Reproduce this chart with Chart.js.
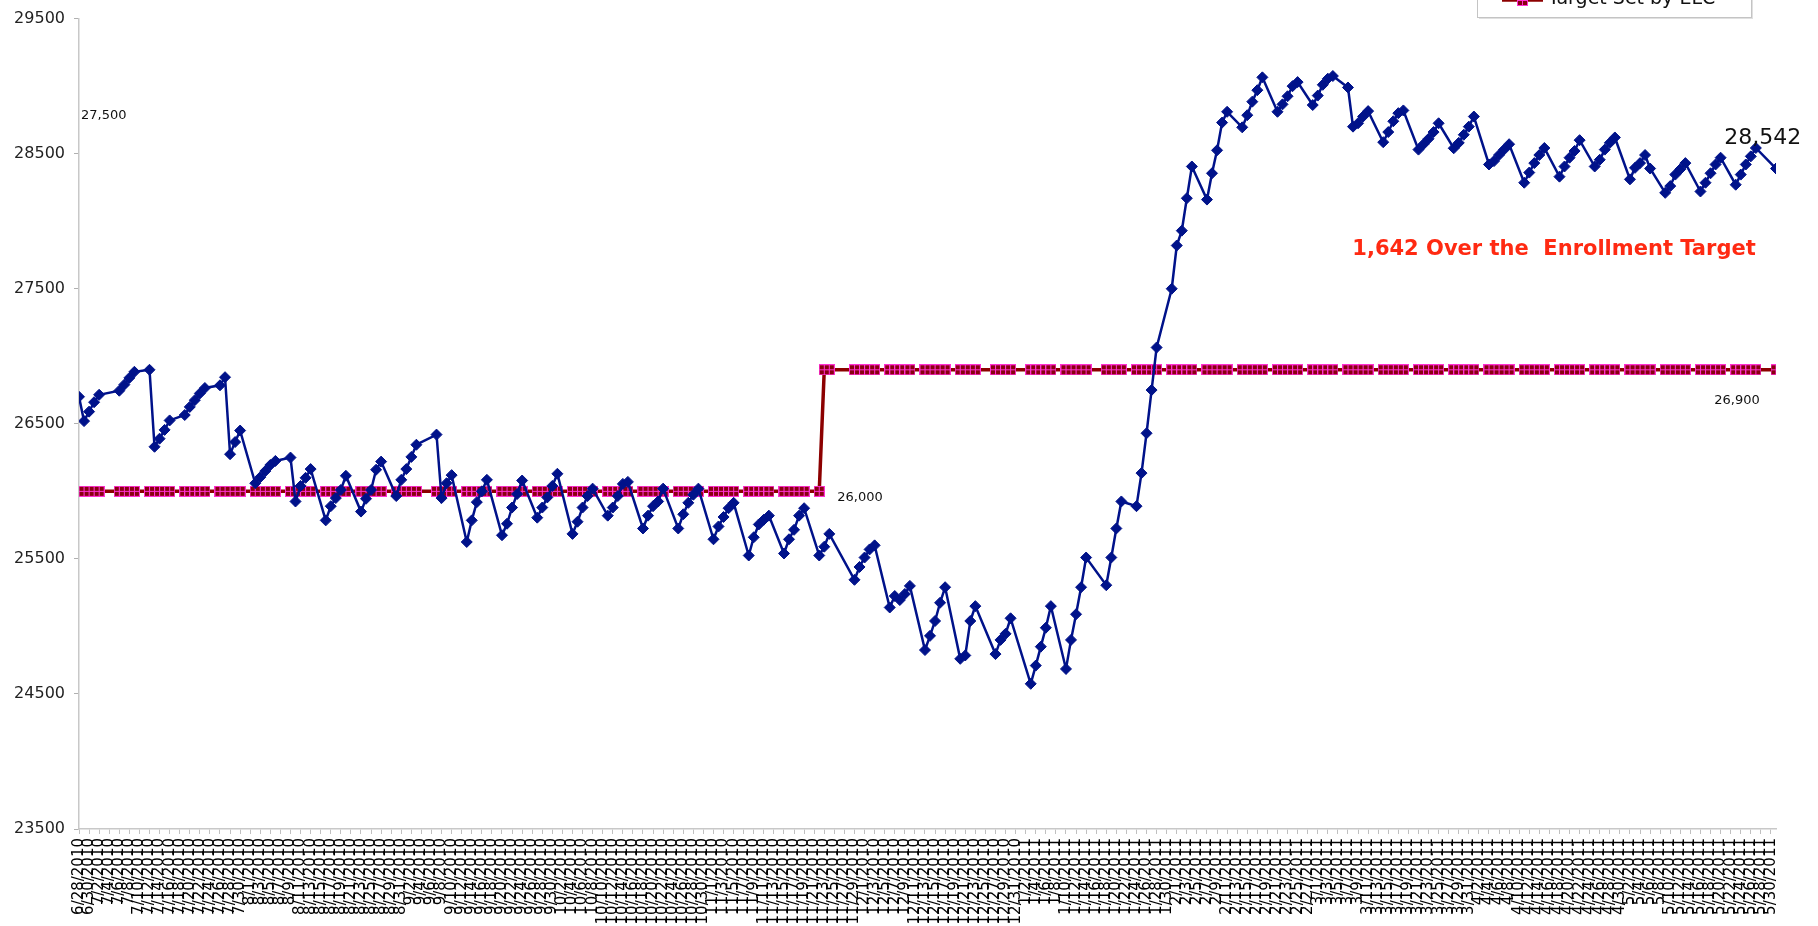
<!DOCTYPE html>
<html><head><meta charset="utf-8">
<script src="https://cdn.jsdelivr.net/npm/chart.js@4.4.1/dist/chart.umd.min.js"></script>
<style>html,body{margin:0;padding:0;background:#fff;overflow:hidden}#wrap{width:1818px;height:926px;position:relative}</style>
</head><body><div id="wrap"><canvas id="c" width="1818" height="926"></canvas></div>
<script>
const dates = [
 '6/28/2010','6/29/2010','6/30/2010','7/1/2010','7/2/2010',
 '7/6/2010','7/7/2010','7/8/2010','7/9/2010',
 '7/12/2010','7/13/2010','7/14/2010','7/15/2010','7/16/2010',
 '7/19/2010','7/20/2010','7/21/2010','7/22/2010','7/23/2010',
 '7/26/2010','7/27/2010','7/28/2010','7/29/2010','7/30/2010',
 '8/2/2010','8/3/2010','8/4/2010','8/5/2010','8/6/2010',
 '8/9/2010','8/10/2010','8/11/2010','8/12/2010','8/13/2010',
 '8/16/2010','8/17/2010','8/18/2010','8/19/2010','8/20/2010',
 '8/23/2010','8/24/2010','8/25/2010','8/26/2010','8/27/2010',
 '8/30/2010','8/31/2010','9/1/2010','9/2/2010','9/3/2010',
 '9/7/2010','9/8/2010','9/9/2010','9/10/2010',
 '9/13/2010','9/14/2010','9/15/2010','9/16/2010','9/17/2010',
 '9/20/2010','9/21/2010','9/22/2010','9/23/2010','9/24/2010',
 '9/27/2010','9/28/2010','9/29/2010','9/30/2010','10/1/2010',
 '10/4/2010','10/5/2010','10/6/2010','10/7/2010','10/8/2010',
 '10/11/2010','10/12/2010','10/13/2010','10/14/2010','10/15/2010',
 '10/18/2010','10/19/2010','10/20/2010','10/21/2010','10/22/2010',
 '10/25/2010','10/26/2010','10/27/2010','10/28/2010','10/29/2010',
 '11/1/2010','11/2/2010','11/3/2010','11/4/2010','11/5/2010',
 '11/8/2010','11/9/2010','11/10/2010','11/11/2010','11/12/2010',
 '11/15/2010','11/16/2010','11/17/2010','11/18/2010','11/19/2010',
 '11/22/2010','11/23/2010','11/24/2010',
 '11/29/2010','11/30/2010','12/1/2010','12/2/2010','12/3/2010',
 '12/6/2010','12/7/2010','12/8/2010','12/9/2010','12/10/2010',
 '12/13/2010','12/14/2010','12/15/2010','12/16/2010','12/17/2010',
 '12/20/2010','12/21/2010','12/22/2010','12/23/2010',
 '12/27/2010','12/28/2010','12/29/2010','12/30/2010',
 '1/3/2011','1/4/2011','1/5/2011','1/6/2011','1/7/2011',
 '1/10/2011','1/11/2011','1/12/2011','1/13/2011','1/14/2011',
 '1/18/2011','1/19/2011','1/20/2011','1/21/2011',
 '1/24/2011','1/25/2011','1/26/2011','1/27/2011','1/28/2011',
 '1/31/2011','2/1/2011','2/2/2011','2/3/2011','2/4/2011',
 '2/7/2011','2/8/2011','2/9/2011','2/10/2011','2/11/2011',
 '2/14/2011','2/15/2011','2/16/2011','2/17/2011','2/18/2011',
 '2/21/2011','2/22/2011','2/23/2011','2/24/2011','2/25/2011',
 '2/28/2011','3/1/2011','3/2/2011','3/3/2011','3/4/2011',
 '3/7/2011','3/8/2011','3/9/2011','3/10/2011','3/11/2011',
 '3/14/2011','3/15/2011','3/16/2011','3/17/2011','3/18/2011',
 '3/21/2011','3/22/2011','3/23/2011','3/24/2011','3/25/2011',
 '3/28/2011','3/29/2011','3/30/2011','3/31/2011','4/1/2011',
 '4/4/2011','4/5/2011','4/6/2011','4/7/2011','4/8/2011',
 '4/11/2011','4/12/2011','4/13/2011','4/14/2011','4/15/2011',
 '4/18/2011','4/19/2011','4/20/2011','4/21/2011','4/22/2011',
 '4/25/2011','4/26/2011','4/27/2011','4/28/2011','4/29/2011',
 '5/2/2011','5/3/2011','5/4/2011','5/5/2011','5/6/2011',
 '5/9/2011','5/10/2011','5/11/2011','5/12/2011','5/13/2011',
 '5/16/2011','5/17/2011','5/18/2011','5/19/2011','5/20/2011',
 '5/23/2011','5/24/2011','5/25/2011','5/26/2011','5/27/2011',
 '5/31/2011'
];
const enrollment = [
 26700,26520,26590,26660,26715,
 26745,26790,26840,26885,
 26900,26330,26390,26455,26525,
 26565,26625,26675,26725,26765,
 26785,26845,26275,26365,26450,
 26060,26105,26150,26195,26225,
 26250,25925,26040,26100,26165,
 25785,25890,25950,26010,26115,
 25850,25945,26010,26160,26220,
 25965,26085,26165,26255,26345,
 26420,25950,26060,26120,
 25625,25785,25920,26000,26085,
 25675,25760,25880,25980,26080,
 25805,25880,25955,26040,26130,
 25685,25775,25880,25965,26020,
 25820,25880,25965,26055,26070,
 25725,25820,25890,25925,26020,
 25725,25830,25915,25975,26020,
 25645,25740,25810,25875,25915,
 25525,25660,25755,25790,25820,
 25540,25645,25715,25820,25875,
 25525,25590,25685,
 25345,25440,25510,25570,25600,
 25140,25225,25195,25240,25300,
 24825,24930,25040,25175,25290,
 24760,24785,25040,25150,
 24795,24900,24945,25060,
 24575,24710,24850,24990,25150,
 24685,24900,25090,25290,25510,
 25305,25510,25725,25925,
 25890,26135,26430,26750,27065,
 27500,27820,27930,28170,28405,
 28160,28355,28525,28730,28810,
 28695,28785,28885,28970,29065,
 28810,28865,28925,29000,29030,
 28860,28930,29010,29055,29075,
 28990,28700,28725,28775,28815,
 28585,28660,28740,28800,28820,
 28530,28570,28610,28660,28725,
 28540,28580,28640,28700,28775,
 28420,28445,28490,28530,28570,
 28285,28360,28430,28490,28542,
 28330,28405,28470,28520,28600,
 28405,28455,28530,28580,28620,
 28310,28395,28430,28490,28390,
 28210,28260,28345,28385,28430,
 28220,28285,28355,28420,28470,
 28270,28345,28420,28480,28542,
 28390
];
const target = [
 26000,26000,26000,26000,26000,
 26000,26000,26000,26000,
 26000,26000,26000,26000,26000,
 26000,26000,26000,26000,26000,
 26000,26000,26000,26000,26000,
 26000,26000,26000,26000,26000,
 26000,26000,26000,26000,26000,
 26000,26000,26000,26000,26000,
 26000,26000,26000,26000,26000,
 26000,26000,26000,26000,26000,
 26000,26000,26000,26000,
 26000,26000,26000,26000,26000,
 26000,26000,26000,26000,26000,
 26000,26000,26000,26000,26000,
 26000,26000,26000,26000,26000,
 26000,26000,26000,26000,26000,
 26000,26000,26000,26000,26000,
 26000,26000,26000,26000,26000,
 26000,26000,26000,26000,26000,
 26000,26000,26000,26000,26000,
 26000,26000,26000,26000,26000,
 26000,26900,26900,
 26900,26900,26900,26900,26900,
 26900,26900,26900,26900,26900,
 26900,26900,26900,26900,26900,
 26900,26900,26900,26900,
 26900,26900,26900,26900,
 26900,26900,26900,26900,26900,
 26900,26900,26900,26900,26900,
 26900,26900,26900,26900,
 26900,26900,26900,26900,26900,
 26900,26900,26900,26900,26900,
 26900,26900,26900,26900,26900,
 26900,26900,26900,26900,26900,
 26900,26900,26900,26900,26900,
 26900,26900,26900,26900,26900,
 26900,26900,26900,26900,26900,
 26900,26900,26900,26900,26900,
 26900,26900,26900,26900,26900,
 26900,26900,26900,26900,26900,
 26900,26900,26900,26900,26900,
 26900,26900,26900,26900,26900,
 26900,26900,26900,26900,26900,
 26900,26900,26900,26900,26900,
 26900,26900,26900,26900,26900,
 26900,26900,26900,26900,26900,
 26900,26900,26900,26900,26900,
 26900,26900,26900,26900,26900,
 26900
];
const seriesNames = ['Enrollment', 'Target Set by ELC'];
const yRange = [23500, 29500];
const yStep = 1000;
const xTickEveryDays = 2;
const noteText = '1,642 Over the  Enrollment Target';
const cornerLabel = '27,500';

const FONT = '"DejaVu Sans", "Lucida Grande", Verdana, sans-serif';
const DAY = 86400000;
function parseDate(s){const p=s.split('/').map(Number);return Date.UTC(p[2],p[0]-1,p[1]);}
const base = parseDate(dates[0]);
const dayOf = s => Math.round((parseDate(s)-base)/DAY);
function fmtDay(v){const d=new Date(base+v*DAY);return (d.getUTCMonth()+1)+'/'+d.getUTCDate()+'/'+d.getUTCFullYear();}
const fmtNum = v => v.toLocaleString('en-US');

// target marker image
const mk = document.createElement('canvas'); mk.width=11; mk.height=11;
(function(){const g=mk.getContext('2d');g.fillStyle='#ff30d2';g.fillRect(0,0,11,11);
 g.fillStyle='#8a0010';[[1,1],[6,1],[1,6],[6,6]].forEach(p=>g.fillRect(p[0],p[1],4,4));})();

const enrollPts = dates.map((d,i)=>({x:dayOf(d),y:enrollment[i]}));
const targetPts = dates.map((d,i)=>({x:dayOf(d),y:target[i]}));

const overlay = {
 id:'overlay',
 afterDraw(chart){
  const ctx=chart.ctx, xs=chart.scales.x, ys=chart.scales.y, ca=chart.chartArea;
  ctx.save();
  ctx.fillStyle='#111'; ctx.textBaseline='middle';
  ctx.font='13px '+FONT; ctx.textAlign='left';
  ctx.fillText(cornerLabel, ca.left+2, ca.top+97);
  let lastLow=-1; for(let i=0;i<target.length;i++) if(target[i]===target[0]) lastLow=i;
  ctx.fillText(fmtNum(target[lastLow]), xs.getPixelForValue(targetPts[lastLow].x)+18, ys.getPixelForValue(target[lastLow])+6);
  const li=target.length-1;
  ctx.textAlign='center';
  ctx.fillText(fmtNum(target[li]), xs.getPixelForValue(targetPts[li].x)-39, ys.getPixelForValue(target[li])+31);
  const pi=enrollment.length-2;
  ctx.font='22px '+FONT;
  ctx.fillText(fmtNum(enrollment[pi]), xs.getPixelForValue(enrollPts[pi].x)+7, ys.getPixelForValue(enrollment[pi])-10);
  ctx.font='bold 21px '+FONT; ctx.fillStyle='#ff2a12';
  ctx.fillText(noteText, 1554, 250);
  // legend (top cut off)
  const bx=1477, bw=274, by=-44, bh=61;
  ctx.fillStyle='rgba(0,0,0,0.12)'; ctx.fillRect(bx+2,by+2,bw,bh);
  ctx.fillStyle='#fff'; ctx.fillRect(bx,by,bw,bh);
  ctx.strokeStyle='#c4c4c4'; ctx.lineWidth=1; ctx.strokeRect(bx+0.5,by+0.5,bw,bh);
  const ds=chart.data.datasets;
  [[0,-26],[1,0]].forEach(([k,y])=>{
    const d=ds[k];
    ctx.strokeStyle=d.borderColor; ctx.lineWidth=d.borderWidth; ctx.beginPath(); ctx.moveTo(1502,y); ctx.lineTo(1543,y); ctx.stroke();
    if(k===1){ctx.drawImage(mk,1517,y-5);} else {
      ctx.fillStyle=d.backgroundColor; ctx.beginPath(); ctx.moveTo(1522-6,y);ctx.lineTo(1522,y-6);ctx.lineTo(1528,y);ctx.lineTo(1522,y+6);ctx.closePath();ctx.fill();}
    ctx.fillStyle='#111'; ctx.font='19px '+FONT; ctx.textAlign='left'; ctx.textBaseline='middle';
    ctx.fillText(d.label, 1548, y-1);
  });
  ctx.restore();
 }
};

new Chart(document.getElementById('c'), {
 type:'line',
 data:{datasets:[
  {label:seriesNames[0], data:enrollPts, borderColor:'#00128a', backgroundColor:'#00128a', borderWidth:2.5,
   pointStyle:'rectRot', pointRadius:5.5, pointBorderWidth:1, tension:0, order:0},
  {label:seriesNames[1], data:targetPts, borderColor:'#8c0000', backgroundColor:'#8c0000', borderWidth:3.5,
   pointStyle:mk, pointRadius:5, tension:0, order:1}
 ]},
 options:{
  responsive:false, animation:false, maintainAspectRatio:false,
  layout:{padding:{top:15,right:42,left:0,bottom:0}},
  plugins:{legend:{display:false}, tooltip:{enabled:false}},
  scales:{
   x:{type:'linear', min:0, max:dayOf(dates[dates.length-1]),
      afterFit(s){s.height=97;},
      border:{color:'#c8c8c8', width:1.5},
      grid:{drawOnChartArea:false, tickLength:5, color:'#c0c0c0'},
      ticks:{stepSize:xTickEveryDays, includeBounds:false, autoSkip:false, maxRotation:90, minRotation:90, padding:4,
        font:{family:FONT, size:15}, color:'#000', callback:v=>fmtDay(v)}},
   y:{min:yRange[0], max:yRange[1],
      afterFit(s){s.width=79;},
      border:{color:'#c8c8c8', width:1.5},
      grid:{drawOnChartArea:false, tickLength:5, color:'#b0b0b0'},
      ticks:{stepSize:yStep, padding:9, font:{family:FONT, size:16}, color:'#222', callback:v=>String(v)}}
  }
 },
 plugins:[overlay]
});
</script></body></html>
